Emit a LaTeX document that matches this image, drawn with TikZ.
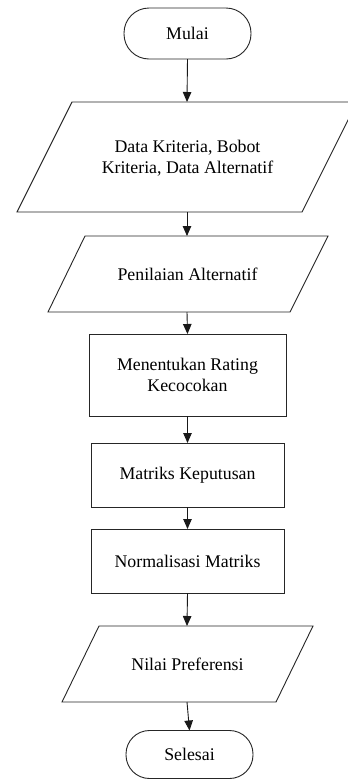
\documentclass[tikz,border=0pt]{standalone}
\usepackage{fontspec}
\setmainfont{Liberation Serif}
\usetikzlibrary{arrows.meta}
\begin{document}
\begin{tikzpicture}[x=1pt,y=-1pt,
  every node/.style={font=\fontsize{17.8}{21}\selectfont, text=black, align=center, inner sep=0pt, outer sep=0pt},
  shapeline/.style={draw=black!85, line width=0.9pt},
  terminal/.style={shapeline, rectangle, rounded corners=25pt, minimum width=127pt},
  procbox/.style={shapeline, rectangle, minimum width=195pt},
  flow/.style={draw=black!90, line width=0.9pt, -{Triangle[length=10pt,width=8.5pt]}}]
\path[use as bounding box, clip] (0,0) rectangle (348,780);
\fill[white] (0,0) rectangle (348,780);

% terminals
\node[terminal, minimum height=51pt] (mulai) at (187.5,33.5) {Mulai};
\node[terminal, minimum height=48pt, rounded corners=23.5pt] (selesai) at (189.5,754.5) {Selesai};

% parallelogram 1
\draw[shapeline] (72,102) -- (357,102) -- (302,212) -- (17,212) -- cycle;
\node (data) at (187.5,158) {Data Kriteria, Bobot\\Kriteria, Data Alternatif};
\coordinate (datat) at (187,102);
\coordinate (datab) at (187,212);

% parallelogram 2
\draw[shapeline] (85,236) -- (328,236) -- (290,312) -- (48,312) -- cycle;
\node (nilai) at (187.5,274) {Penilaian Alternatif};
\coordinate (nilait) at (187,236);
\coordinate (nilaib) at (187,312);

% process boxes
\node[procbox, minimum width=197pt, minimum height=82pt] (rating) at (187.5,375) {Menentukan Rating\\Kecocokan};
\node[procbox, minimum width=193pt, minimum height=64pt] (matriks) at (187.5,475) {Matriks Keputusan};
\node[procbox, minimum width=193pt, minimum height=64pt] (normal) at (187.5,561) {Normalisasi Matriks};

% parallelogram 3
\draw[shapeline] (99,626) -- (313,626) -- (276,702) -- (62,702) -- cycle;
\node (pref) at (187.5,664) {Nilai Preferensi};
\coordinate (preft) at (187,626);
\coordinate (prefb) at (187,702);

% connectors
\draw[flow] (mulai.south) -- (datat);
\draw[flow] (datab) -- (nilait);
\draw[flow] (nilaib) -- (rating.north);
\draw[flow] (rating.south) -- (matriks.north);
\draw[flow] (matriks.south) -- (normal.north);
\draw[flow] (normal.south) -- (preft);
\draw[flow] (prefb) -- (selesai.north);
\end{tikzpicture}
\end{document}
